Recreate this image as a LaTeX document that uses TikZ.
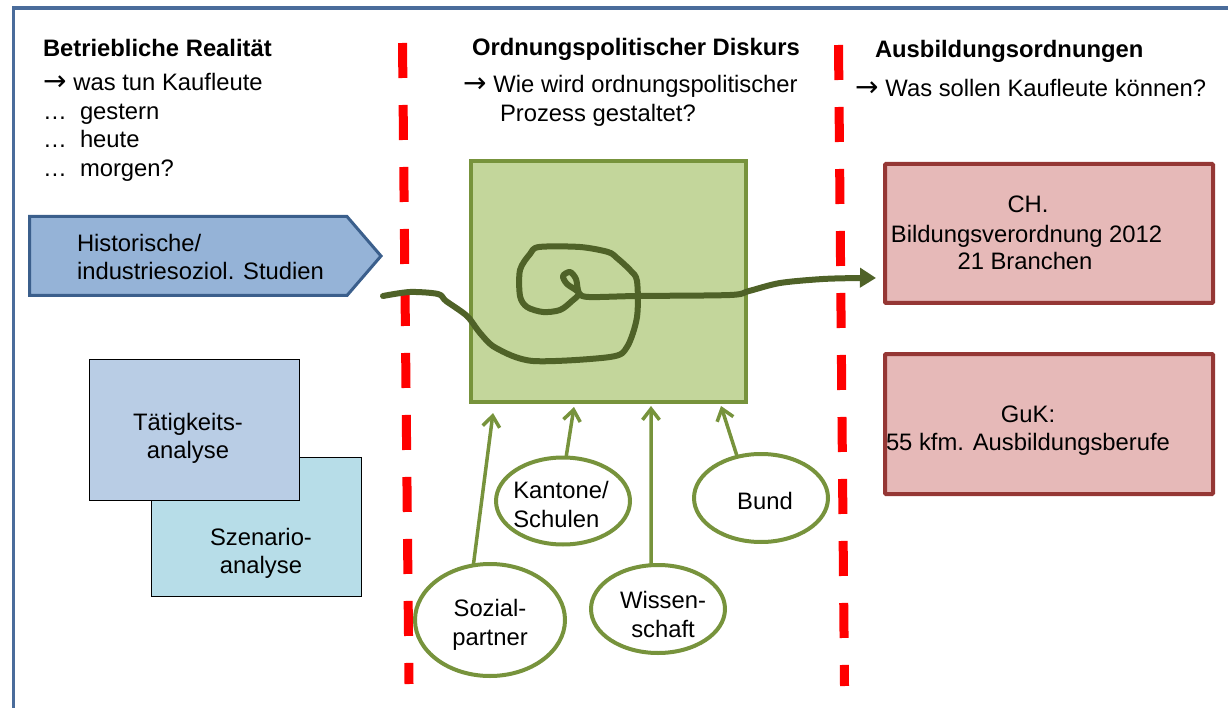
\documentclass[tikz,border=0pt]{standalone}
\usepackage{fontspec}
\setmainfont{Liberation Sans}
\newfontfamily\arrowfont{DejaVu Sans}
\newcommand{\rarr}{{\arrowfont\fontsize{28}{29}\selectfont →}\hspace{7pt}}
\usetikzlibrary{shapes.geometric,arrows.meta,calc}
\definecolor{framec}{HTML}{4A6C9B}
\definecolor{histfill}{HTML}{95B3D7}
\definecolor{histdraw}{HTML}{3B5F8C}
\definecolor{taetfill}{HTML}{B9CDE5}
\definecolor{szenfill}{HTML}{B7DDE8}
\definecolor{gfill}{HTML}{C3D69B}
\definecolor{gdraw}{HTML}{77933C}
\definecolor{spiralc}{HTML}{4F6228}
\definecolor{pfill}{HTML}{E6B9B8}
\definecolor{pdraw}{HTML}{953735}
\definecolor{redc}{HTML}{FF0000}
\begin{document}
\begin{tikzpicture}[x=1pt,y=-1pt,
  every node/.style={font=\fontsize{23.8}{29}\selectfont, inner sep=0pt, outer sep=0pt},
  txt/.style={anchor=base west},
  ctxt/.style={anchor=base},
  hdr/.style={anchor=base west, font=\fontsize{23.8}{29}\selectfont\bfseries},
  framestyle/.style={draw=framec, line width=3.5pt},
  reddash/.style={draw=redc, line width=9pt, dash pattern=on 35pt off 27pt},
  analysebox/.style={rectangle, draw=black, line width=1.5pt, minimum width=210pt, minimum height=140pt},
  pinkbox/.style={rectangle, draw=pdraw, fill=pfill, line width=4pt, rounded corners=1pt, minimum width=328pt, minimum height=139pt},
  actor/.style={ellipse, draw=gdraw, fill=white, line width=4pt},
  actorarrow/.style={draw=gdraw, line width=3.5pt, -{Straight Barb[length=11pt,width=17pt]}},
  spiral/.style={draw=spiralc, line width=6pt, line cap=round, line join=round, -{Triangle[length=16pt,width=19pt]}}
]
\useasboundingbox (0,0) rectangle (1228,708);
\clip (0,0) rectangle (1228,708);

% frame
\coordinate (fbl) at (13.5,720);
\coordinate (ftl) at (13.5,8);
\coordinate (ftr) at (1240,8);
\draw[framestyle] (fbl) -- (ftl) -- (ftr);

% red dashed separators
\coordinate (l1a) at (402.5,43);
\coordinate (l1b) at (409,684);
\coordinate (l2a) at (838.5,45);
\coordinate (l2b) at (844.5,686);
\draw[reddash] (l1a) -- (l1b);
\draw[reddash] (l2a) -- (l2b);

% pentagon arrow
\draw[draw=histdraw, fill=histfill, line width=3pt]
  (29.5,216.5) -- (347,216.5) -- (381,256) -- (347,295.5) -- (29.5,295.5) -- cycle;
\node[txt] (hist1) at (77,252) {Historische/};
\node[txt] (hist2) at (77,280) {industriesoziol. Studien};

% analysis boxes
\node[analysebox, fill=szenfill, minimum height=139pt] (szen) at (256.5,527) {};
\node[analysebox, fill=taetfill, minimum height=141pt] (taet) at (194.5,430) {};
\node[ctxt] (taet1) at (188,430) {Tätigkeits-};
\node[ctxt] (taet2) at (188,458) {analyse};
\node[ctxt] (szen1) at (261,545) {Szenario-};
\node[ctxt] (szen2) at (261,573) {analyse};

% central discourse box
\node[rectangle, draw=gdraw, fill=gfill, line width=4pt, minimum width=275pt, minimum height=240pt] (disk) at (608.5,281.5) {};

% pink boxes
\node[pinkbox] (ch) at (1049,233.5) {};
\node[pinkbox, minimum height=140pt] (guk) at (1049,424) {};
\node[ctxt] (ch1) at (1028,213) {CH.};
\node[ctxt] (ch2) at (1026.5,243) {Bildungsverordnung 2012};
\node[ctxt] (ch3) at (1025,270) {21 Branchen};
\node[ctxt] (guk1) at (1028,422) {GuK:};
\node[ctxt] (guk2) at (1028,450) {55 kfm. Ausbildungsberufe};

% actors
\node[actor, minimum width=134pt, minimum height=87pt,
  label={[align=left,xshift=-2pt,yshift=-3pt]center:{Kantone/\\Schulen}}] (kant) at (563,501) {};
\node[actor, minimum width=134pt, minimum height=88pt,
  label={[xshift=4pt,yshift=-3pt]center:{Bund}}] (bund) at (761,498) {};
\node[actor, minimum width=150pt, minimum height=112pt,
  label={[align=center,yshift=-5pt]center:{Sozial-\\partner}}] (soz) at (490,620) {};
\node[actor, minimum width=134pt, minimum height=88pt,
  label={[align=center,xshift=5pt,yshift=-5pt]center:{Wissen-\\schaft}}] (wiss) at (658,609) {};

% arrows from actors to the discourse box
\coordinate (sozT) at (493,413);
\coordinate (kantT) at (574,407);
\coordinate (wissT) at (651,406);
\coordinate (bundT) at (721,406);
\draw[actorarrow] (soz.107) -- (sozT);
\draw[actorarrow] (kant.86) -- (kantT);
\draw[actorarrow] (wiss.99) -- (wissT);
\draw[actorarrow] (bund.120) -- (bundT);

% spiral
\draw[spiral] plot[smooth, tension=0.5] coordinates {
 (383,296) (410,292) (438,294) (446,301) (467,316) (480,333) (496,348)
 (533,361) (610,357) (627,347) (637,317) (637,281) (630,270) (617,258)
 (608,252) (580,247) (539,247) (530,254) (520,270) (520,296) (527,307)
 (543,312) (560,310) (572,301) (579,293) (567,284) (563,276) (570,272)
 (576,279) (579,293) (589,297) (637,296) (730,295) (749,291) (780,283)
 (823,279) (860,278) (876,278)};

% headings
\node[hdr] (h1) at (43,57) {Betriebliche Realität};
\node[txt] (h1a) at (43,91) {\rarr was tun Kaufleute};
\node[txt] (h1b) at (43,120) {…~ gestern};
\node[txt] (h1c) at (43,148) {…~ heute};
\node[txt] (h1d) at (43,177) {…~ morgen?};

\node[hdr] (h2) at (472,56) {Ordnungspolitischer Diskurs};
\node[txt] (h2a) at (463,93) {\rarr Wie wird ordnungspolitischer};
\node[txt] (h2b) at (500,122) {Prozess gestaltet?};

\node[hdr] (h3) at (875,58) {Ausbildungsordnungen};
\node[txt] (h3a) at (855,97) {\rarr Was sollen Kaufleute können?};
\end{tikzpicture}
\end{document}
